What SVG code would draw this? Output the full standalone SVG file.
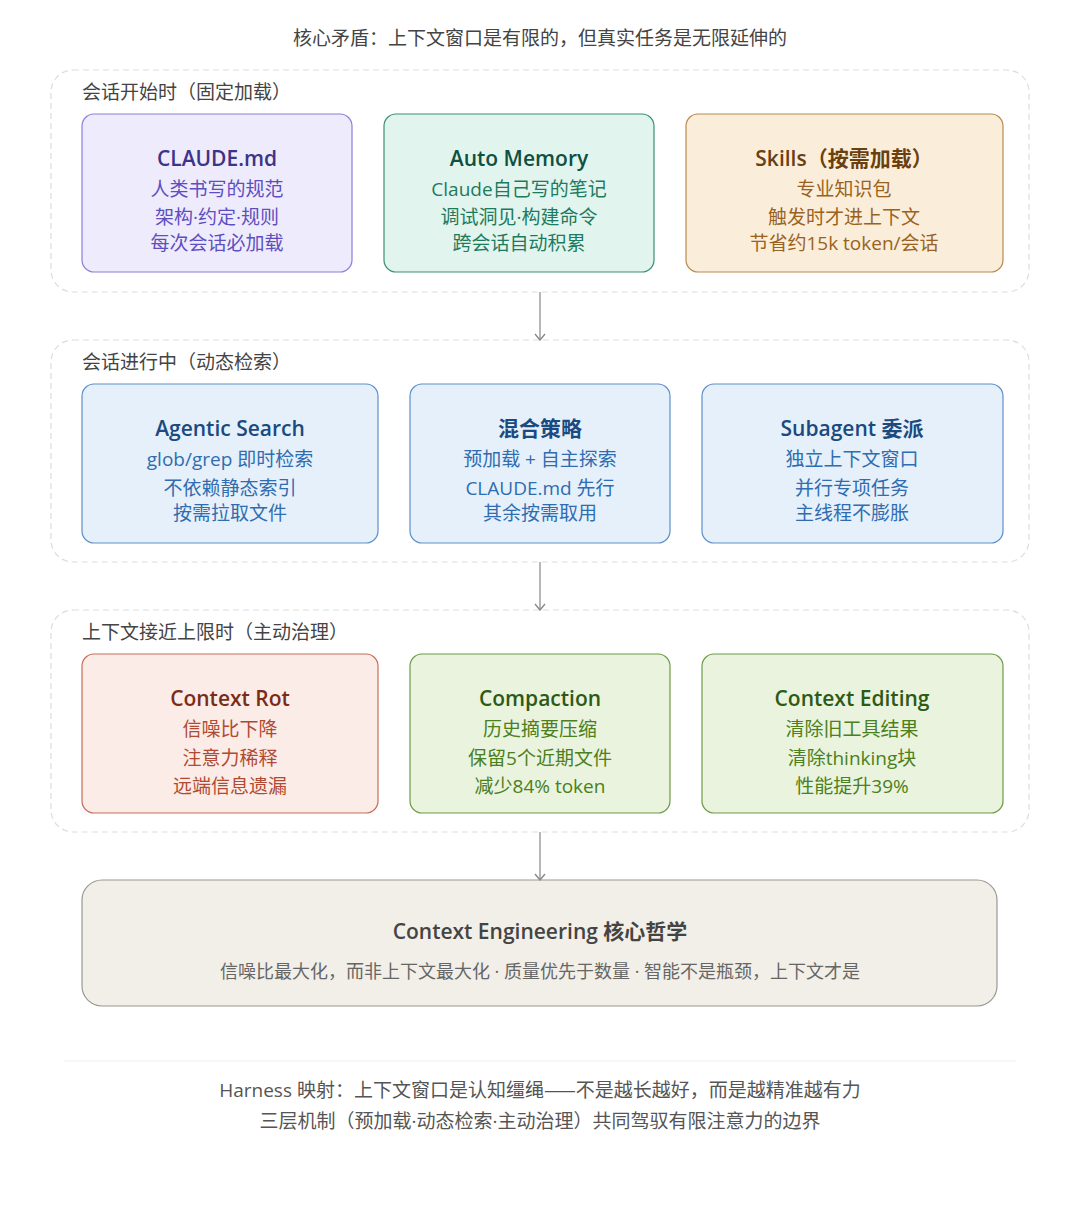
<svg xmlns="http://www.w3.org/2000/svg" width="1080" height="1208" viewBox="0 0 1080 1208">
<defs>
<marker id="arr" viewBox="0 0 12 12" refX="11" refY="6" markerWidth="12" markerHeight="12" markerUnits="userSpaceOnUse" orient="auto">
<path d="M5 1 L11 6 L5 11" fill="none" stroke="#888" stroke-width="1.4"/>
</marker>
</defs>
<style>
text{font-family:"Open Sans","Noto Sans CJK SC",sans-serif;text-anchor:middle}
.cap{font-size:19px;fill:#444}
.glab{font-size:19px;fill:#444;text-anchor:start}
.grp{fill:none;stroke:#ddd;stroke-width:1.2;stroke-dasharray:6 4}
.t{font-size:21px;font-weight:600}
.l{font-size:19px}
.conn{stroke:#999;stroke-width:1.4;fill:none}
.foot{font-size:19px;fill:#555}
.cjk{font-family:"Noto Sans CJK SC",sans-serif}
</style>
<rect width="1080" height="1208" fill="#fff"/>
<text class="cap" x="540" y="45">核心矛盾：上下文窗口是有限的，但真实任务是无限延伸的</text>

<g id="group-start">
<rect class="grp" x="51" y="70" width="978" height="222" rx="22"/>
<text class="glab" x="82" y="99">会话开始时（固定加载）</text>
</g>
<g id="node-claude">
<rect x="82" y="114" width="270" height="158" rx="12" fill="#eeebfc" stroke="#8b7fd8" stroke-width="1.2"/>
<text class="t" x="217" y="166" fill="#3c3489">CLAUDE.md</text>
<text class="l" x="217" y="196" fill="#5e4fc0">人类书写的规范</text>
<text class="l" x="217" y="224" fill="#5e4fc0">架构·约定·规则</text>
<text class="l" x="217" y="250" fill="#5e4fc0">每次会话必加载</text>
</g>
<g id="node-memory">
<rect x="384" y="114" width="270" height="158" rx="12" fill="#e1f5ee" stroke="#3a8f76" stroke-width="1.2"/>
<text class="t" x="519" y="166" fill="#0f5040">Auto Memory</text>
<text class="l" x="519" y="196" fill="#1d7a5e">Claude自己写的笔记</text>
<text class="l" x="519" y="224" fill="#1d7a5e">调试洞见·构建命令</text>
<text class="l" x="519" y="250" fill="#1d7a5e">跨会话自动积累</text>
</g>
<g id="node-skills">
<rect x="686" y="114" width="317" height="158" rx="12" fill="#faeeda" stroke="#b98a4e" stroke-width="1.2"/>
<text class="t" x="844" y="166" fill="#6b3f0e">Skills（按需加载）</text>
<text class="l" x="844" y="196" fill="#9a6220">专业知识包</text>
<text class="l" x="844" y="224" fill="#9a6220">触发时才进上下文</text>
<text class="l" x="844" y="250" fill="#9a6220">节省约15k token/会话</text>
</g>

<g id="group-running">
<rect class="grp" x="51" y="340" width="978" height="222" rx="22"/>
<text class="glab" x="82" y="369">会话进行中（动态检索）</text>
</g>
<g id="node-search">
<rect x="82" y="384" width="296" height="159" rx="12" fill="#e6f0fb" stroke="#5f8fc8" stroke-width="1.2"/>
<text class="t" x="230" y="436" fill="#1a4a80">Agentic Search</text>
<text class="l" x="230" y="466" fill="#2f6db0">glob/grep 即时检索</text>
<text class="l" x="230" y="495" fill="#2f6db0">不依赖静态索引</text>
<text class="l" x="230" y="520" fill="#2f6db0">按需拉取文件</text>
</g>
<g id="node-hybrid">
<rect x="410" y="384" width="260" height="159" rx="12" fill="#e6f0fb" stroke="#5f8fc8" stroke-width="1.2"/>
<text class="t" x="540" y="436" fill="#1a4a80">混合策略</text>
<text class="l" x="540" y="466" fill="#2f6db0">预加载 + 自主探索</text>
<text class="l" x="540" y="495" fill="#2f6db0">CLAUDE.md 先行</text>
<text class="l" x="540" y="520" fill="#2f6db0">其余按需取用</text>
</g>
<g id="node-subagent">
<rect x="702" y="384" width="301" height="159" rx="12" fill="#e6f0fb" stroke="#5f8fc8" stroke-width="1.2"/>
<text class="t" x="852" y="436" fill="#1a4a80">Subagent 委派</text>
<text class="l" x="852" y="466" fill="#2f6db0">独立上下文窗口</text>
<text class="l" x="852" y="495" fill="#2f6db0">并行专项任务</text>
<text class="l" x="852" y="520" fill="#2f6db0">主线程不膨胀</text>
</g>

<g id="group-limit">
<rect class="grp" x="51" y="610" width="978" height="222" rx="22"/>
<text class="glab" x="82" y="639">上下文接近上限时（主动治理）</text>
</g>
<g id="node-rot">
<rect x="82" y="654" width="296" height="159" rx="12" fill="#fbece7" stroke="#c46e58" stroke-width="1.2"/>
<text class="t" x="230" y="706" fill="#7a2c18">Context Rot</text>
<text class="l" x="230" y="736" fill="#b04a32">信噪比下降</text>
<text class="l" x="230" y="765" fill="#b04a32">注意力稀释</text>
<text class="l" x="230" y="793" fill="#b04a32">远端信息遗漏</text>
</g>
<g id="node-compaction">
<rect x="410" y="654" width="260" height="159" rx="12" fill="#eaf3de" stroke="#6e9a48" stroke-width="1.2"/>
<text class="t" x="540" y="706" fill="#2d5a14">Compaction</text>
<text class="l" x="540" y="736" fill="#4a8020">历史摘要压缩</text>
<text class="l" x="540" y="765" fill="#4a8020">保留5个近期文件</text>
<text class="l" x="540" y="793" fill="#4a8020">减少84% token</text>
</g>
<g id="node-editing">
<rect x="702" y="654" width="301" height="159" rx="12" fill="#eaf3de" stroke="#6e9a48" stroke-width="1.2"/>
<text class="t" x="852" y="706" fill="#2d5a14">Context Editing</text>
<text class="l" x="852" y="736" fill="#4a8020">清除旧工具结果</text>
<text class="l" x="852" y="765" fill="#4a8020">清除thinking块</text>
<text class="l" x="852" y="793" fill="#4a8020">性能提升39%</text>
</g>

<g id="node-philosophy">
<rect x="82" y="880" width="915" height="126" rx="20" fill="#f1efe8" stroke="#9a9890" stroke-width="1.2"/>
<text class="t" x="540" y="939" fill="#444">Context Engineering 核心哲学</text>
<text x="540" y="978" font-size="18" fill="#666">信噪比最大化，而非上下文最大化 · 质量优先于数量 · 智能不是瓶颈，上下文才是</text>
</g>

<g id="connectors">
<line class="conn" x1="540" y1="292" x2="540" y2="340" marker-end="url(#arr)"/>
<line class="conn" x1="540" y1="562" x2="540" y2="610" marker-end="url(#arr)"/>
<line class="conn" x1="540" y1="832" x2="540" y2="880" marker-end="url(#arr)"/>
</g>

<line x1="64" y1="1061" x2="1016" y2="1061" stroke="#eee" stroke-width="1"/>
<text class="foot" x="540" y="1097">Harness 映射：上下文窗口是认知缰绳<tspan class="cjk">——</tspan>不是越长越好，而是越精准越有力</text>
<text class="foot" x="540" y="1128">三层机制（预加载·动态检索·主动治理）共同驾驭有限注意力的边界</text>
</svg>
